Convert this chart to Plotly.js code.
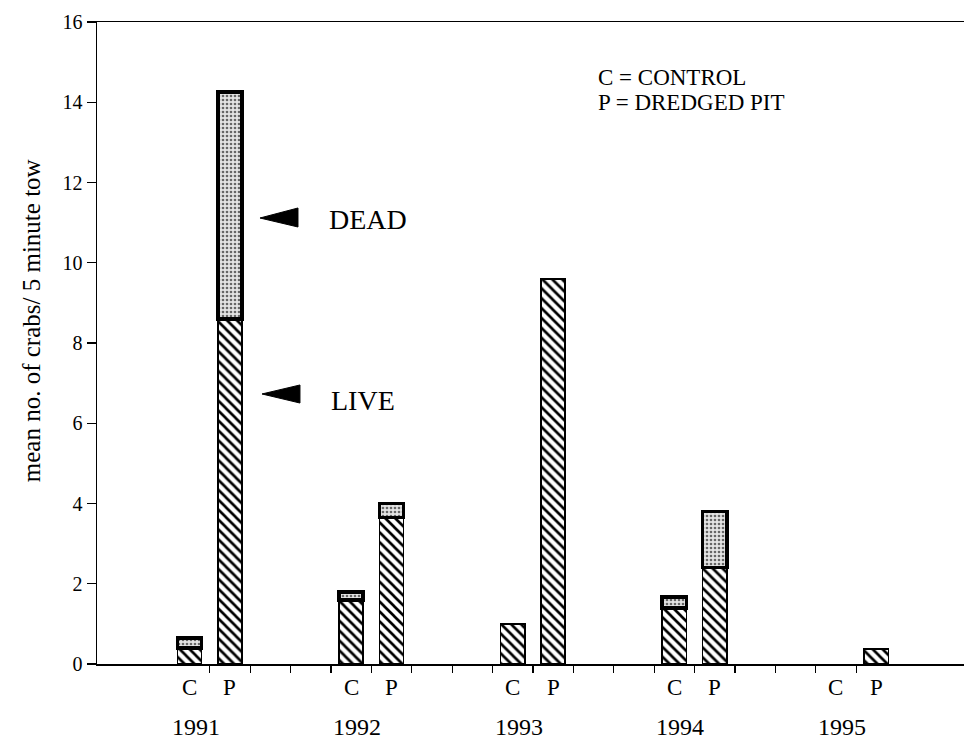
<!DOCTYPE html>
<html>
<head>
<meta charset="utf-8">
<script src="https://cdn.plot.ly/plotly-3.0.1.min.js"></script>
<style>
html,body{margin:0;padding:0;background:#fff;overflow:hidden;}
#chart{width:964px;height:739px;}
</style>
</head>
<body>
<div id="chart"></div>
<script>
// ---- data ----
var years = ['1991', '1992', '1993', '1994', '1995'];
var groups = ['C', 'P'];
// values in order: 1991 C, 1991 P, 1992 C, 1992 P, ... 1995 C, 1995 P
var liveValues = [0.4, 8.6, 1.6, 3.65, 1.0, 9.6, 1.4, 2.4, 0, 0.37];
var deadValues = [0.25, 5.65, 0.2, 0.35, 0, 0, 0.27, 1.4, 0, 0];
var yTicks = [0, 2, 4, 6, 8, 10, 12, 14, 16];
var keyLines = ['C = CONTROL', 'P = DREDGED PIT'];
var seriesNames = ['LIVE', 'DEAD'];
var yTitle = 'mean no. of crabs/ 5 minute tow';

// ---- build positions: each year occupies 4 slots (C, P, gap, gap) ----
var SLOTS = 4;
var xPos = [], groupLabels = [];
years.forEach(function (y, yi) {
  groups.forEach(function (g, gi) {
    xPos.push(yi * SLOTS + gi);
    groupLabels.push(g);
  });
});
var deadPlot = deadValues.map(function (v) { return v > 0 ? v : null; });
var livePlot = liveValues.map(function (v) { return v > 0 ? v : null; });

var tickMarks = [];
for (var t = 0.5; t <= (years.length - 1) * SLOTS + 0.5 + 0.01; t += 1) tickMarks.push(t);

var FONT = "Liberation Serif, Times New Roman, serif";

var traces = [
  {
    type: 'bar', name: seriesNames[0], x: xPos, y: livePlot, width: 0.6,
    marker: {
      color: '#fff',
      pattern: {shape: '\\', fgcolor: '#000', bgcolor: '#fff', size: 7, solidity: 0.38},
      line: {color: '#000', width: 1.5}
    },
    hoverinfo: 'skip'
  },
  {
    type: 'bar', name: seriesNames[1], x: xPos, y: deadPlot, width: 0.6,
    marker: {
      color: '#d8d8d8',
      pattern: {shape: '.', fgcolor: '#666', bgcolor: '#e4e4e4', size: 4, solidity: 0.35},
      line: {color: '#000', width: 3.5}
    },
    hoverinfo: 'skip'
  }
];

var annotations = [];
xPos.forEach(function (x, i) {
  annotations.push({
    x: x, xref: 'x', y: 0, yref: 'paper', yanchor: 'middle', yshift: -23,
    text: groupLabels[i], showarrow: false, font: {family: FONT, size: 23, color: '#000'}
  });
});
years.forEach(function (y, yi) {
  annotations.push({
    x: yi * SLOTS + 0.15, xref: 'x', y: 0, yref: 'paper', yanchor: 'middle', yshift: -63,
    text: y, showarrow: false, font: {family: FONT, size: 24, color: '#000'}
  });
});
keyLines.forEach(function (s, i) {
  annotations.push({
    x: 0.575, xref: 'paper', y: 0.914 - i * 0.039, yref: 'paper', xanchor: 'left', yanchor: 'middle',
    text: s, showarrow: false, font: {family: FONT, size: 23, color: '#000'}
  });
});
annotations.push({
  x: 0.2653, xref: 'paper', y: 0.6916, yref: 'paper', xanchor: 'left', yanchor: 'middle',
  text: seriesNames[1], showarrow: false, font: {family: FONT, size: 28, color: '#000'}
});
annotations.push({
  x: 0.2676, xref: 'paper', y: 0.4112, yref: 'paper', xanchor: 'left', yanchor: 'middle',
  text: seriesNames[0], showarrow: false, font: {family: FONT, size: 28, color: '#000'}
});
annotations.push({
  x: -0.0761, xref: 'paper', y: 0.534, yref: 'paper', xanchor: 'center', yanchor: 'middle',
  textangle: -90, text: yTitle, showarrow: false, font: {family: FONT, size: 25, color: '#000'}
});

var shapes = [
  {type: 'path', xref: 'paper', yref: 'paper',
   path: 'M 0.188 0.6947 L 0.2318 0.7103 L 0.2318 0.6807 Z',
   fillcolor: '#000', line: {color: '#000', width: 1}},
  {type: 'path', xref: 'paper', yref: 'paper',
   path: 'M 0.1903 0.4206 L 0.2341 0.4346 L 0.2341 0.4065 Z',
   fillcolor: '#000', line: {color: '#000', width: 1}}
];

var layout = {
  width: 964, height: 739,
  margin: {l: 97, r: 0, t: 22, b: 75, pad: 0},
  paper_bgcolor: '#fff', plot_bgcolor: '#fff',
  barmode: 'stack',
  showlegend: false,
  font: {family: FONT, color: '#000'},
  xaxis: {
    range: [-2.29, 19.17],
    tickmode: 'array', tickvals: tickMarks, ticktext: tickMarks.map(function () { return ''; }),
    ticks: 'outside', ticklen: 7, tickwidth: 1.2, tickcolor: '#000',
    showline: true, linecolor: '#000', linewidth: 1.5, mirror: true,
    showgrid: false, zeroline: false, fixedrange: true
  },
  yaxis: {
    range: [0, 16],
    tickmode: 'array', tickvals: yTicks, ticktext: yTicks.map(String),
    ticks: 'outside', ticklen: 9, tickwidth: 1.2, tickcolor: '#000',
    tickfont: {family: FONT, size: 20, color: '#000'},
    showline: true, linecolor: '#000', linewidth: 1.5,
    showgrid: false, zeroline: false, fixedrange: true
  },
  annotations: annotations,
  shapes: shapes
};

Plotly.newPlot('chart', traces, layout, {displayModeBar: false, staticPlot: true});
</script>
</body>
</html>
